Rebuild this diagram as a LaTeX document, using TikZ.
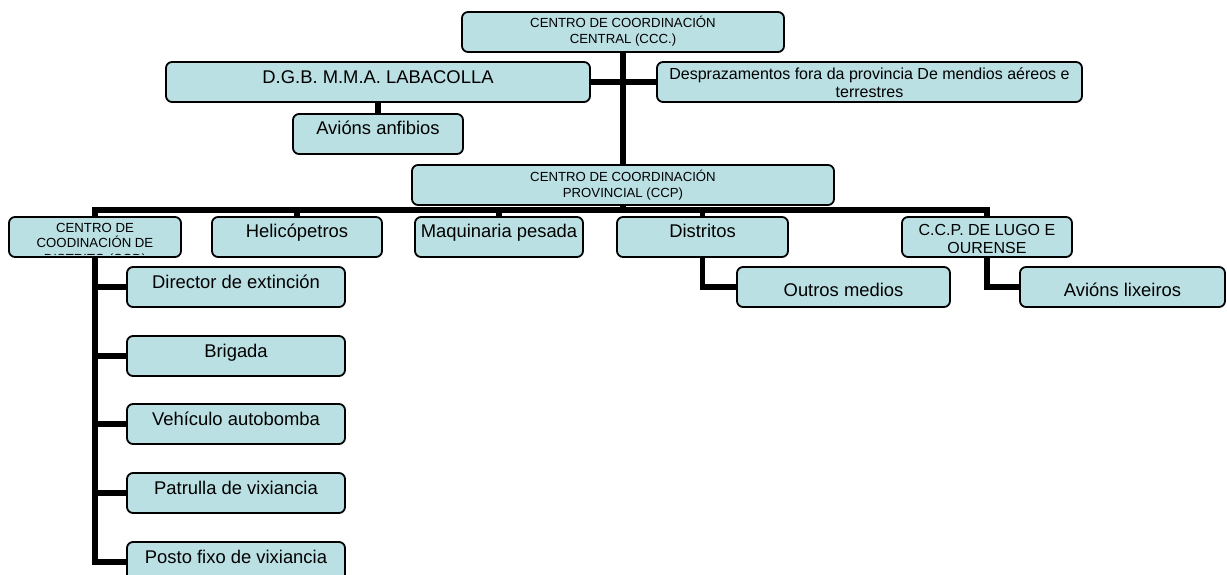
\documentclass[tikz,border=0pt]{standalone}
\usepackage{fontspec}
\setmainfont{Liberation Sans}
\pgfdeclarelayer{links}
\pgfsetlayers{links,main}
\definecolor{boxfill}{RGB}{187,224,227}
\tikzset{
  box/.style={draw=black, line width=1.8pt, fill=boxfill, rounded corners=6pt, inner sep=0pt},
  link/.style={draw=black, line width=5.5pt, line join=miter},
  big/.style={font=\fontsize{18.4}{21}\selectfont, inner sep=0pt, anchor=base},
  small/.style={font=\fontsize{13.2}{15.5}\selectfont, inner sep=0pt, anchor=base, align=center},
  mid/.style={font=\fontsize{16}{18}\selectfont, inner sep=0pt, anchor=base, align=center},
}
% rounded box from (x1,y1) to (x2,y2), pixel units, y downwards
\newcommand\boxat[5]{\node[box, minimum width={(#4-#2)*1pt}, minimum height={(#5-#3)*1pt}] (#1) at ({(#2+#4)/2},{(#3+#5)/2}) {};}
\begin{document}
\begin{tikzpicture}[x=1pt, y=-1pt]
\useasboundingbox (0,0) rectangle (1227,575);
\clip (0,0) rectangle (1227,575);

% boxes
\boxat{ccc}{462}{12}{784}{52}
\boxat{dgb}{166}{62}{590}{102}
\boxat{anf}{293}{114}{463}{154}
\boxat{desp}{657}{62}{1082}{102}
\boxat{ccp}{412}{165}{834}{205}
\boxat{ccd}{9}{217}{181}{257}
\boxat{heli}{212}{217}{382}{257}
\boxat{maq}{415}{217}{583}{257}
\boxat{dist}{617}{217}{788}{257}
\boxat{lugo}{902}{217}{1072}{257}
\boxat{outros}{737}{267}{950}{307}
\boxat{lix}{1020}{267}{1225}{307}
\boxat{dir}{127}{267}{345}{307}
\boxat{brig}{127}{336}{345}{376}
\boxat{veh}{127}{404}{345}{444}
\boxat{pat}{127}{473}{345}{513}
\boxat{posto}{127}{542}{345}{582}

% labels (multi-line labels are placed by the baseline of their last line)
\node[small] (ccc-t) at (623,43.5) {CENTRO DE COORDINACIÓN\\CENTRAL (CCC.)};
\node[big] (dgb-t) at (378,84) {D.G.B. M.M.A. LABACOLLA};
\node[big] (anf-t) at (378,135) {Avións anfibios};
\node[mid] (desp-t) at (869.5,98) {Desprazamentos fora da provincia De mendios aéreos e\\terrestres};
\node[small] (ccp-t) at (623,197) {CENTRO DE COORDINACIÓN\\PROVINCIAL (CCP)};
% overflowing text is cut off inside its box
\begin{scope}
  \clip (10,218) rectangle (180,254.5);
  \node[small] (ccd-t) at (95,263) {CENTRO DE\\COODINACIÓN DE\\DISTRITO (CCD)};
\end{scope}
\node[big] (heli-t) at (297,237) {Helicópetros};
\node[big] (maq-t) at (499,237) {Maquinaria pesada};
\node[big] (dist-t) at (702.5,237) {Distritos};
\begin{scope}
  \clip (903,218) rectangle (1071,252.5);
  \node[mid] (lugo-t) at (987,253.5) {C.C.P. DE LUGO E\\OURENSE};
\end{scope}
\node[big] (outros-t) at (843.5,296) {Outros medios};
\node[big] (lix-t) at (1122.5,296) {Avións lixeiros};
\node[big] (dir-t) at (236,288) {Director de extinción};
\node[big] (brig-t) at (236,357) {Brigada};
\node[big] (veh-t) at (236,425) {Vehículo autobomba};
\node[big] (pat-t) at (236,494) {Patrulla de vixiancia};
\node[big] (posto-t) at (236,563) {Posto fixo de vixiancia};

% connectors
\begin{pgfonlayer}{links}
  \coordinate (bus) at (0,210);
  \draw[link] (ccc.south) -- (ccp.north);
  \draw[link] (dgb.east) -- (desp.west);
  \draw[link] (dgb.south -| anf.north) -- (anf.north);
  \draw[link] (ccp.south) -- (ccp.south |- bus);
  \draw[link] (ccd.north) -- (ccd.north |- bus) -- (lugo.north |- bus) -- (lugo.north);
  \foreach \n in {heli,maq,dist} \draw[link] (\n.north |- bus) -- (\n.north);
  \draw[link] (ccd.south) |- (posto.west);
  \foreach \n in {dir,brig,veh,pat} \draw[link] (ccd.south |- \n.west) -- (\n.west);
  \draw[link] (dist.south) |- (outros.west);
  \draw[link] (lugo.south) |- (lix.west);
\end{pgfonlayer}
\end{tikzpicture}
\end{document}
